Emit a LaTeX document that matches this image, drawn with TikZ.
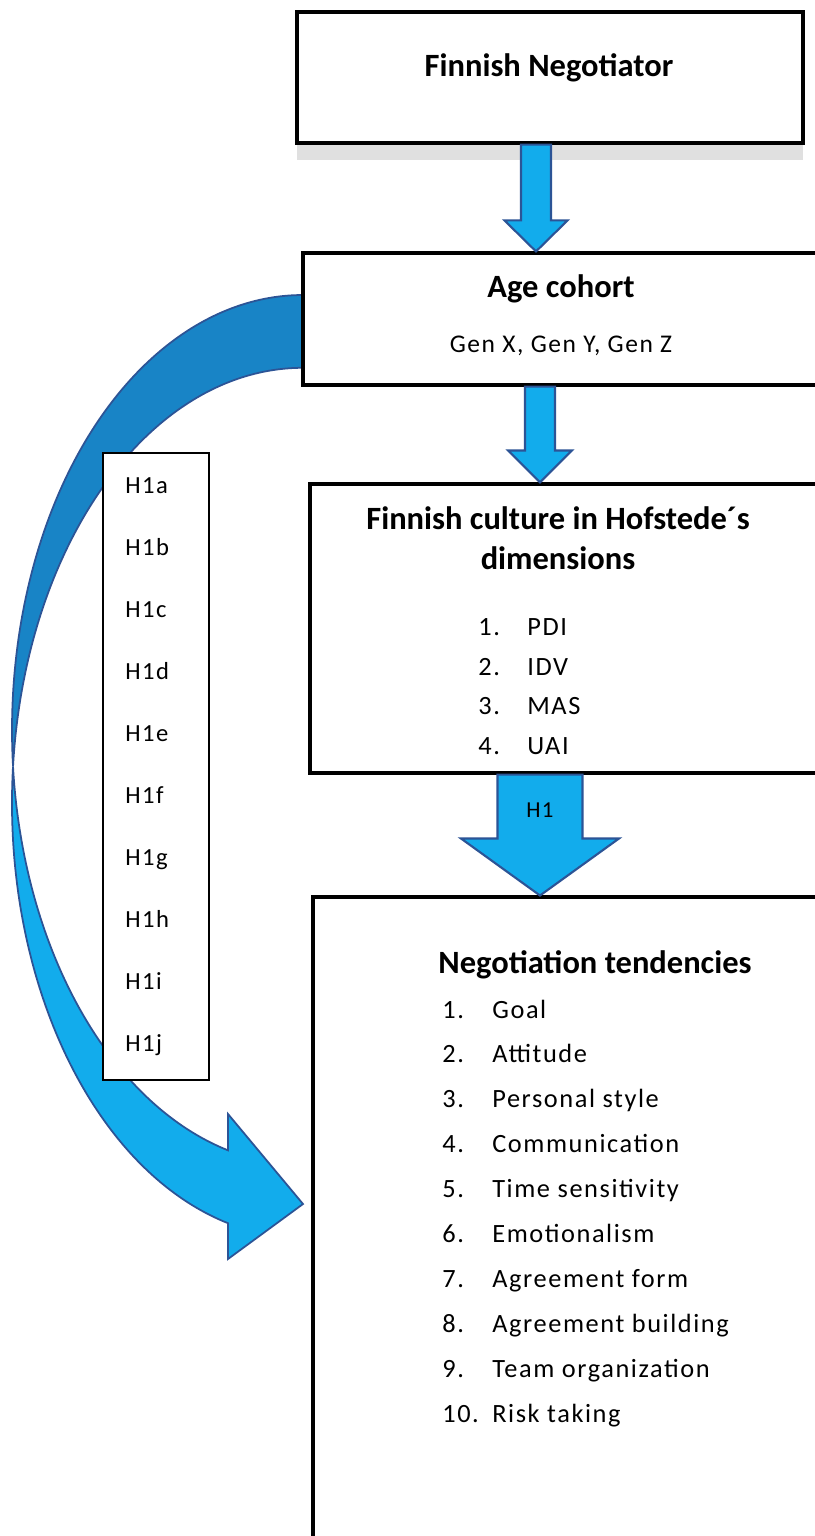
\documentclass[tikz,border=0pt]{standalone}
\usepackage{fontspec}
\setmainfont{Carlito}
\newfontfamily\spacedfont[LetterSpace=6]{Carlito}
\usetikzlibrary{positioning, calc, shadows}
\definecolor{arrowblue}{RGB}{18,172,236}
\definecolor{bandblue}{RGB}{24,132,198}
\definecolor{edgeblue}{RGB}{44,84,150}
\tikzstyle{box} = [rectangle, draw, line width=1.8pt, fill=white, inner sep=0pt]
\tikzstyle{hbox} = [rectangle, draw, line width=1.6pt, fill=white, inner sep=0pt]
\tikzstyle{blockfill} = [fill=arrowblue, draw=edgeblue, line width=1.2pt, line join=miter]
\tikzstyle{backband} = [fill=bandblue, draw=edgeblue, line width=1pt]
\tikzstyle{frontband} = [fill=arrowblue, draw=edgeblue, line width=1pt, line join=miter]
\tikzstyle{title} = [font=\bfseries\fontsize{18.5}{23.3}\selectfont, inner sep=0pt]
\tikzstyle{gentext} = [font=\spacedfont\fontsize{14.5}{18}\selectfont, inner sep=0pt]
\tikzstyle{dimtext} = [font=\spacedfont\fontsize{15}{22.76}\selectfont, inner sep=0pt]
\tikzstyle{tendtext} = [font=\spacedfont\fontsize{15}{25.55}\selectfont, inner sep=0pt]
\tikzstyle{hyptext} = [font=\spacedfont\fontsize{14}{35.34}\selectfont, inner sep=0pt]
\tikzstyle{arrowlabel} = [font=\spacedfont\fontsize{13}{16}\selectfont, inner sep=0pt]
% block arrow between two boxes: x coordinate, upper box, lower box, half shaft, half head, head length
\newcommand{\blockarrow}[6]{%
  \draw[blockfill] ($(#1 |- #2.south)+(-#4,0)$) -- ($(#1 |- #2.south)+(#4,0)$)
    -- ($(#1 |- #3.north)+(#4,-#6)$) -- ($(#1 |- #3.north)+(#5,-#6)$) -- (#1 |- #3.north)
    -- ($(#1 |- #3.north)+(-#5,-#6)$) -- ($(#1 |- #3.north)+(-#4,-#6)$) -- cycle;}

\begin{document}
\begin{tikzpicture}[x=0.02cm, y=-0.02cm]
    \clip (0,0) rectangle (815,1536);
    \fill[white] (0,0) rectangle (815,1536);

    % curved arrow from the age cohort down to the tendencies
    \path[backband] (303,295) arc[start angle=270, end angle=175.2, x radius=291, y radius=435]
      arc[start angle=184.8, end angle=270, x radius=291, y radius=435] -- cycle;
    \path[frontband] (13.02,766.5) arc[start angle=184.8, end angle=104.93, x radius=291, y radius=435]
      -- (228,1259) -- (303,1204) -- (228,1114) -- (228,1150.3)
      arc[start angle=104.93, end angle=175.2, x radius=291, y radius=435] -- cycle;

    \node [box, drop shadow={shadow xshift=0pt, shadow yshift=-0.34cm, fill=black!12, opacity=1},
      minimum width=10.12cm, minimum height=2.62cm] (negotiator) at (550,77.5) {};
    \node [box, minimum width=10.54cm, minimum height=2.64cm] (cohort) at (566.5,319) {};
    \node [box, minimum width=10.4cm, minimum height=5.78cm] (culture) at (570,628.5) {};
    \node [box, minimum width=10.34cm, minimum height=13.26cm] (tendencies) at (571.5,1228.5) {};
    \node [hbox, minimum width=2.12cm, minimum height=12.54cm] (hyp) at (156,766.5) {};

    \coordinate (ax1) at (536,0);
    \coordinate (ax2) at (540,0);
    \coordinate (ax3) at (540,0);
    \blockarrow{ax1}{negotiator}{cohort}{15}{31.5}{31}
    \blockarrow{ax2}{cohort}{culture}{15}{32}{32}
    \blockarrow{ax3}{culture}{tendencies}{42.5}{79}{57}

    \node [title, anchor=base] (negtitle) at (549,76) {Finnish Negotiator};
    \node [title, anchor=base] (agetitle) at (561,297) {Age cohort};
    \node [gentext, anchor=base] (gens) at (561,352) {Gen X, Gen Y, Gen Z};
    \node [title, anchor=base] (cultitle) at (558,529)
      {\begin{tabular}[t]{@{}c@{}}Finnish culture in Hofstede´s\\dimensions\end{tabular}};
    \node [dimtext, anchor=base west] (dims) at (478,635)
      {\begin{tabular}[t]{@{}p{0.98cm}@{}l@{}}1. & PDI\\2. & IDV\\3. & MAS\\4. & UAI\end{tabular}};
    \node [arrowlabel, anchor=base] (hone) at (540,817) {H1};
    \node [title, anchor=base] (tendtitle) at (595,973) {Negotiation tendencies};
    \node [tendtext, anchor=base west] (tends) at (442,1018)
      {\begin{tabular}[t]{@{}p{1cm}@{}l@{}}1. & Goal\\2. & Attitude\\3. & Personal style\\
        4. & Communication\\5. & Time sensitivity\\6. & Emotionalism\\7. & Agreement form\\
        8. & Agreement building\\9. & Team organization\\10. & Risk taking\end{tabular}};
    \node [hyptext, anchor=base west] (hyps) at (125,493)
      {\begin{tabular}[t]{@{}l@{}}H1a\\H1b\\H1c\\H1d\\H1e\\H1f\\H1g\\H1h\\H1i\\H1j\end{tabular}};
\end{tikzpicture}
\end{document}
